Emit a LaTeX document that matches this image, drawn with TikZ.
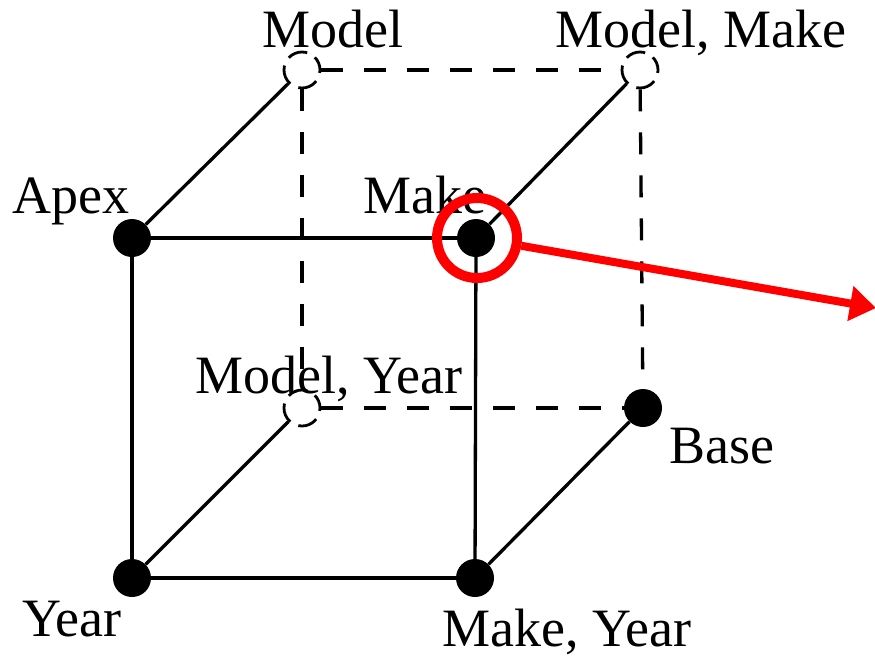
\documentclass[tikz,border=0pt]{standalone}
\usepackage{fontspec}
\setmainfont{Liberation Serif}
\usetikzlibrary{arrows.meta}
\begin{document}
\begin{tikzpicture}[x=1pt,y=-1pt,
  lbl/.style={inner sep=0pt,anchor=base,font=\fontsize{54}{60}\selectfont},
  vis/.style={circle,fill=black,inner sep=0pt,minimum size=38pt},
  hid/.style={circle,draw=black,line width=2.8pt,inner sep=0pt,minimum size=36pt,dash pattern=on 20pt off 9pt,dash phase=6pt},
  edge/.style={line width=3.3pt,black},
  hedge/.style={line width=3.3pt,black,dash pattern=on 22pt off 21pt},
  redc/.style={circle,draw=red,line width=10pt,inner sep=0pt,minimum size=80pt}]
\useasboundingbox (0,0) rectangle (875,657);
% vertices
\node[vis] (apex) at (132,238) {};
\node[vis] (make) at (476,238) {};
\node[vis] (year) at (132,578) {};
\node[vis] (makeyear) at (475,578) {};
\node[vis] (base) at (643,408) {};
\node[hid] (model) at (302,70) {};
\node[hid] (modelmake) at (640,70) {};
\node[hid] (modelyear) at (302,408) {};
% solid edges
\draw[edge] (apex) -- (make);
\draw[edge] (apex) -- (year);
\draw[edge] (make) -- (makeyear);
\draw[edge] (year) -- (makeyear);
\draw[edge] (apex) -- (model);
\draw[edge] (make) -- (modelmake);
\draw[edge] (year) -- (modelyear);
\draw[edge] (makeyear) -- (base);
% hidden edges
\draw[hedge] (model) -- (modelmake);
\draw[hedge] (model) -- (modelyear);
\draw[hedge] (modelyear) -- (base);
\draw[hedge] (modelmake) -- (base);
% labels
\node[lbl] (lmodel) at (333,47) {Model};
\node[lbl] (lmodelmake) at (701,47) {Model, Make};
\node[lbl] (lapex) at (71,213) {Apex};
\node[lbl] (lmake) at (425,213) {Make};
\node[lbl] (lmodelyear) at (329,393) {Model, Year};
\node[lbl] (lbase) at (722,463) {Base};
\node[lbl] (lyear) at (72,636) {Year};
\node[lbl] (lmakeyear) at (567,646) {Make, Year};
% red highlight
\node[redc] (hl) at (477,238) {};
\coordinate (tip) at (876,308);
\draw[red,line width=8pt,-{Triangle[length=26pt,width=34pt]}] (hl) -- (tip);
\end{tikzpicture}
\end{document}
